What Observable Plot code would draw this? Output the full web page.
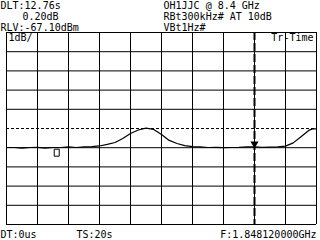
<!DOCTYPE html>
<html><head><meta charset="utf-8">
<script src="https://cdn.jsdelivr.net/npm/d3@7"></script>
<script src="https://cdn.jsdelivr.net/npm/@observablehq/plot@0.6"></script>
<style>
html,body{margin:0;padding:0;background:#fff;}
svg{display:block;}
</style></head>
<body><div id="chart"></div>
<script>
// ---- data ----
const headerLeft = ["DLT:12.76s", "0.20dB", "RLV:-67.10dBm"];
const headerRight = ["OH1JJC @ 8.4 GHz", "RBt300kHz# AT 10dB", "VBt1Hz#"];
const footer = ["DT:0us", "TS:20s", "F:1.848120000GHz"];
const gridLabels = ["1dB/", "Tr-Time"];
const xTicks = [0, 2, 4, 6, 8, 10, 12, 14, 16, 18, 20];           // s
const yTicks = [-67.1, -68.1, -69.1, -70.1, -71.1, -73.1, -74.1, -75.1, -76.1, -77.1]; // dBm
const displayLine = [-72.1];
const times = [0,0.5,1,1.5,2,2.5,3,3.5,4,4.5,5,5.5,6,6.5,7,7.5,8,8.5,9,9.5,10,10.5,11,11.5,12,12.5,13,13.5,14,14.5,15,15.5,16,16.5,17,17.5,18,18.5,19,19.5,19.75,20];
const levels = [-73.09,-73.09,-73.12,-73.09,-73.08,-73.12,-73.09,-73.09,-73.06,-73.09,-73.06,-73.04,-73.01,-72.93,-72.83,-72.62,-72.36,-72.18,-72.08,-72.15,-72.41,-72.72,-72.88,-72.99,-73.04,-73.06,-73.09,-73.08,-73.10,-73.09,-73.08,-73.06,-73.05,-73.08,-73.07,-73.06,-73.02,-72.85,-72.53,-72.20,-72.12,-72.12];
const markerTime = [16];
const markerLevel = [-73.05];
const refTime = [3.24];
const refLevel = [-73.1];

const trace = times.map((t, i) => ({t, db: levels[i]}));
const marker = markerTime.map((t, i) => ({t, db: markerLevel[i]}));
const ref = refTime.map((t, i) => ({t, db: refLevel[i]}));

const rectSymbol = {draw(ctx) { ctx.rect(-2.5, -3.5, 5, 7); }};
const font = "DejaVu Sans Mono";
const txt = (arr, o) => Plot.text(arr, {text: d => d, fontSize: 10, fill: "black", lineAnchor: "bottom", ...o});

const chart = Plot.plot({
  width: 320, height: 240,
  marginTop: 32, marginBottom: 16, marginLeft: 6, marginRight: 4,
  x: {domain: [0, 20], axis: null},
  y: {domain: [-77.1, -67.1], axis: null},
  style: {fontFamily: font, background: "white"},
  marks: [
    Plot.ruleX(xTicks, {stroke: "black", strokeWidth: 1}),
    Plot.ruleY(yTicks, {stroke: "black", strokeWidth: 1}),
    Plot.ruleY(displayLine, {stroke: "black", strokeWidth: 1, strokeDasharray: "3,2"}),
    Plot.ruleX(markerTime, {stroke: "black", strokeWidth: 2, strokeDasharray: "8,3"}),
    Plot.line(trace, {x: "t", y: "db", stroke: "black", strokeWidth: 1.2}),
    Plot.dot(marker, {x: "t", y: "db", symbol: "triangle", rotate: 180, r: 3, fill: "black", dy: -3}),
    Plot.dot(ref, {x: "t", y: "db", symbol: rectSymbol, fill: "white", stroke: "black", strokeWidth: 1, dy: 5}),
    txt([gridLabels[0]], {frameAnchor: "top-left", textAnchor: "start", dx: 2, dy: 8}),
    txt([gridLabels[1]], {frameAnchor: "top-right", textAnchor: "end", dx: -3, dy: 8}),
    txt([headerLeft[0]], {frameAnchor: "top-left", textAnchor: "start", dx: -6, dy: -24}),
    txt([headerLeft[1]], {frameAnchor: "top-left", textAnchor: "start", dx: 16, dy: -13}),
    txt([headerLeft[2]], {frameAnchor: "top-left", textAnchor: "start", dx: -6, dy: -2}),
    txt([headerRight[0]], {frameAnchor: "top-left", textAnchor: "start", dx: 157, dy: -24}),
    txt([headerRight[1]], {frameAnchor: "top-left", textAnchor: "start", dx: 157, dy: -13}),
    txt([headerRight[2]], {frameAnchor: "top-left", textAnchor: "start", dx: 157, dy: -2}),
    txt([footer[0]], {frameAnchor: "bottom-left", textAnchor: "start", dx: -6, dy: 13}),
    txt([footer[1]], {frameAnchor: "bottom-left", textAnchor: "start", dx: 70, dy: 13}),
    txt([footer[2]], {frameAnchor: "bottom-right", textAnchor: "end", dx: 0, dy: 13})
  ]
});
document.getElementById("chart").appendChild(chart);
</script>
</body></html>
